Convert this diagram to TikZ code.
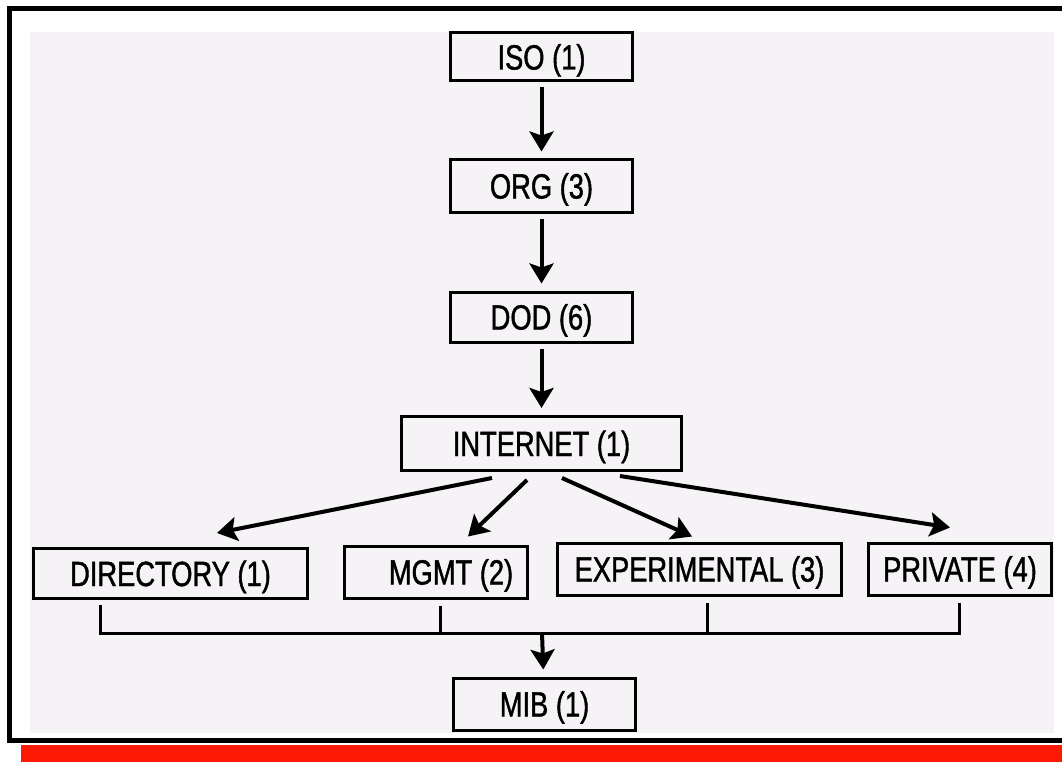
\documentclass[tikz,border=0pt]{standalone}
\usepackage{fontspec}
\setmainfont{Liberation Sans}[FakeStretch=0.78, FakeBold=1.2]
\usetikzlibrary{arrows.meta}
\definecolor{backfill}{RGB}{246,243,246}
\definecolor{barred}{RGB}{252,26,4}
\begin{document}
\begin{tikzpicture}[x = 1pt, y = -1pt,
  oid/.style = {draw, line width = 3pt, inner sep = 0pt, minimum height = 52pt,
    font = \fontsize{35}{40}\selectfont, text height = 25pt, text depth = 0pt},
  link/.style = {line width = 3pt},
  arr/.style = {line width = 4pt, -{Stealth[length = 20pt, width = 24pt, inset = 4pt]},
    shorten <= 5pt, shorten >= 7pt}]
\useasboundingbox (0,0) rectangle (1062,762);
\fill[backfill] (30,32) rectangle (1054,733);
\fill[barred] (21,745) rectangle (1070,770);
\draw[line width = 5pt] (9.5,9) rectangle (1075,740.5);
\node[oid, minimum width = 182pt, minimum height = 48pt] (iso) at (541.5,57) {ISO (1)};
\node[oid, minimum width = 182pt] (org) at (541.5,186) {ORG (3)};
\node[oid, minimum width = 182pt, minimum height = 50pt] (dod) at (541.5,317) {DOD (6)};
\node[oid, minimum width = 280pt, minimum height = 54pt] (inet) at (541.5,443.5) {INTERNET (1)};
\node[oid, minimum width = 274pt, minimum height = 50pt] (dir) at (170.5,573.5) {DIRECTORY (1)};
\node[oid, minimum width = 183pt] (mgmt) at (436,572) {\hspace*{30pt}MGMT (2)};
\node[oid, minimum width = 284pt] (exp) at (699.5,569) {EXPERIMENTAL (3)};
\node[oid, minimum width = 183pt] (priv) at (960,569) {PRIVATE (4)};
\node[oid, minimum width = 182pt] (mib) at (544.5,704) {MIB (1)};
\draw[arr] (iso) -- (org);
\draw[arr] (org) -- (dod);
\draw[arr] (dod) -- (inet);
\draw[arr, shorten <= 0pt, shorten >= 0pt] ([xshift = -49.5pt, yshift = -6pt]inet.south) -- ([xshift = 46.5pt, yshift = 14pt]dir.north);
\draw[arr, shorten <= 0pt, shorten >= 0pt] ([xshift = -14.5pt, yshift = -8pt]inet.south) -- ([xshift = 32pt, yshift = 8pt]mgmt.north);
\draw[arr, shorten <= 0pt, shorten >= 0pt] ([xshift = 20.5pt, yshift = -6pt]inet.south) -- ([xshift = -7.5pt, yshift = 5pt]exp.north);
\draw[arr, shorten <= 0pt, shorten >= 0pt] ([xshift = 78.5pt, yshift = -4pt]inet.south) -- ([xshift = -10pt, yshift = 14pt]priv.north);
\coordinate (bus) at (542,633);
\draw[link, shorten <= 5pt, shorten >= 6pt] ([xshift = -70.5pt]dir.south) |- (bus) -| ([xshift = -1pt]priv.south);
\draw[link, shorten <= 6pt] ([xshift = 4pt]mgmt.south) |- (bus);
\draw[link, shorten <= 6pt] ([xshift = 7.5pt]exp.south) |- (bus);
\draw[arr, shorten <= 0pt] (bus) -- (mib);
\end{tikzpicture}
\end{document}
